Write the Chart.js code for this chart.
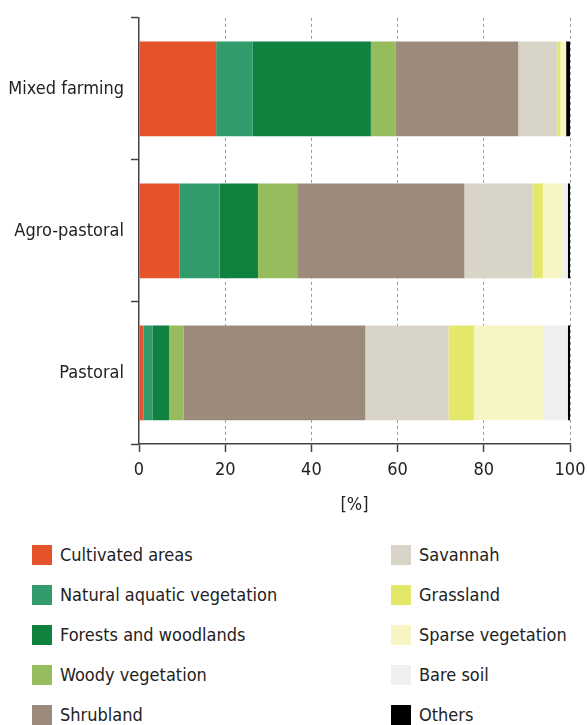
<!DOCTYPE html>
<html>
<head>
<meta charset="utf-8">
<title>Land cover by farming system</title>
<script src="https://cdn.jsdelivr.net/npm/chart.js@4.4.1/dist/chart.umd.min.js"></script>
<style>
    html, body { margin: 0; padding: 0; background: #fff; }
    #wrap { position: relative; width: 587px; height: 725px; overflow: hidden; }
    #chart-landcover { position: absolute; left: 0; top: 0; }
    .legend-item {
        position: absolute;
        height: 20px;
        line-height: 20px;
        font-family: "DejaVu Sans Condensed", "DejaVu Sans", sans-serif;
        font-size: 18px;
        color: #222;
        white-space: nowrap;
    }
    .legend-item .swatch {
        position: absolute; left: 0; top: 0; width: 20px; height: 20px;
    }
    .legend-item .label { position: absolute; left: 28px; top: 0; }
</style>
</head>
<body>
<div id="wrap">
    <canvas id="chart-landcover" width="587" height="530"></canvas>
    <div id="legend"></div>
</div>
<script>
// Farming systems (y axis, top to bottom)
const systems = ['Mixed farming', 'Agro-pastoral', 'Pastoral'];

// Share of each land cover class, in % per farming system
const cultivated = [17.9, 9.4, 1.0];
const aquatic    = [8.5, 9.3, 2.2];
const forests    = [27.4, 8.9, 3.8];
const woody      = [5.8, 9.1, 3.4];
const shrubland  = [28.4, 38.8, 42.1];
const savannah   = [9.1, 15.8, 19.3];
const grassland  = [0.7, 2.4, 5.9];
const sparse     = [1.3, 4.6, 16.3];
const bareSoil   = [0.0, 1.2, 5.5];
const others     = [0.9, 0.5, 0.5];

const xTicks = [0, 20, 40, 60, 80, 100];

const classNames = [
    'Cultivated areas', 'Natural aquatic vegetation', 'Forests and woodlands',
    'Woody vegetation', 'Shrubland', 'Savannah', 'Grassland',
    'Sparse vegetation', 'Bare soil', 'Others'
];
const classValues = [cultivated, aquatic, forests, woody, shrubland,
                     savannah, grassland, sparse, bareSoil, others];
const classColors = [
    '#E4532A', '#319B6C', '#0F8240', '#96BC5E', '#9C8B7D',
    '#D9D4C8', '#E3E76A', '#F7F5C3', '#EFEFF1', '#000000'
];

const FONT = '"DejaVu Sans Condensed", "DejaVu Sans", sans-serif';
const AXIS = '#444';

Chart.defaults.font.family = FONT;
Chart.defaults.font.size = 18;
Chart.defaults.color = '#222';

const datasets = classNames.map((name, i) => ({
    label: name,
    data: classValues[i],
    backgroundColor: classColors[i],
    borderWidth: 0,
    categoryPercentage: 1.0,
    barPercentage: 0.667
}));

const chart = new Chart(document.getElementById('chart-landcover'), {
    type: 'bar',
    data: { labels: systems, datasets },
    options: {
        indexAxis: 'y',
        responsive: false,
        animation: false,
        layout: { padding: { top: 12, right: 17, left: 0, bottom: 0 } },
        plugins: {
            legend: { display: false },
            tooltip: { enabled: false }
        },
        scales: {
            x: {
                stacked: true,
                min: 0,
                max: 100,
                afterBuildTicks: (scale) => { scale.ticks = xTicks.map(v => ({ value: v })); },
                afterFit: (scale) => {
                    scale.height = 86;
                    // let the "100" label hang past the plot edge
                    scale.paddingLeft = 0;
                    scale.paddingRight = 0;
                },
                ticks: { padding: 8, maxRotation: 0 },
                grid: {
                    color: (ctx) => ctx.tick && ctx.tick.value === 0 ? 'transparent' : '#9a9a9a',
                    lineWidth: 1,
                    tickColor: AXIS,
                    tickLength: 8,
                    tickWidth: 1.5,
                    tickBorderDash: []
                },
                border: { color: AXIS, width: 1.5, dash: [3, 3] },
                title: { display: true, text: '[%]', padding: { top: 0, bottom: 14 } }
            },
            y: {
                stacked: true,
                afterFit: (scale) => { scale.width = 139; },
                ticks: { padding: 7 },
                grid: {
                    offset: true,
                    drawOnChartArea: false,
                    color: AXIS,
                    tickColor: AXIS,
                    tickLength: 8,
                    tickWidth: 1.5
                },
                border: { color: AXIS, width: 1.5 }
            }
        }
    }
});

// Legend: two columns of five, built from the chart's datasets
function buildLegend() {
    const box = document.getElementById('legend');
    chart.data.datasets.forEach((ds, i) => {
        const col = Math.floor(i / 5);
        const row = i % 5;
        const item = document.createElement('div');
        item.className = 'legend-item';
        item.style.left = (col === 0 ? 32 : 391) + 'px';
        item.style.top = (545 + row * 40) + 'px';
        const sw = document.createElement('span');
        sw.className = 'swatch';
        sw.style.background = ds.backgroundColor;
        const lb = document.createElement('span');
        lb.className = 'label';
        lb.textContent = ds.label;
        item.appendChild(sw);
        item.appendChild(lb);
        box.appendChild(item);
    });
}
buildLegend();
</script>
</body>
</html>
